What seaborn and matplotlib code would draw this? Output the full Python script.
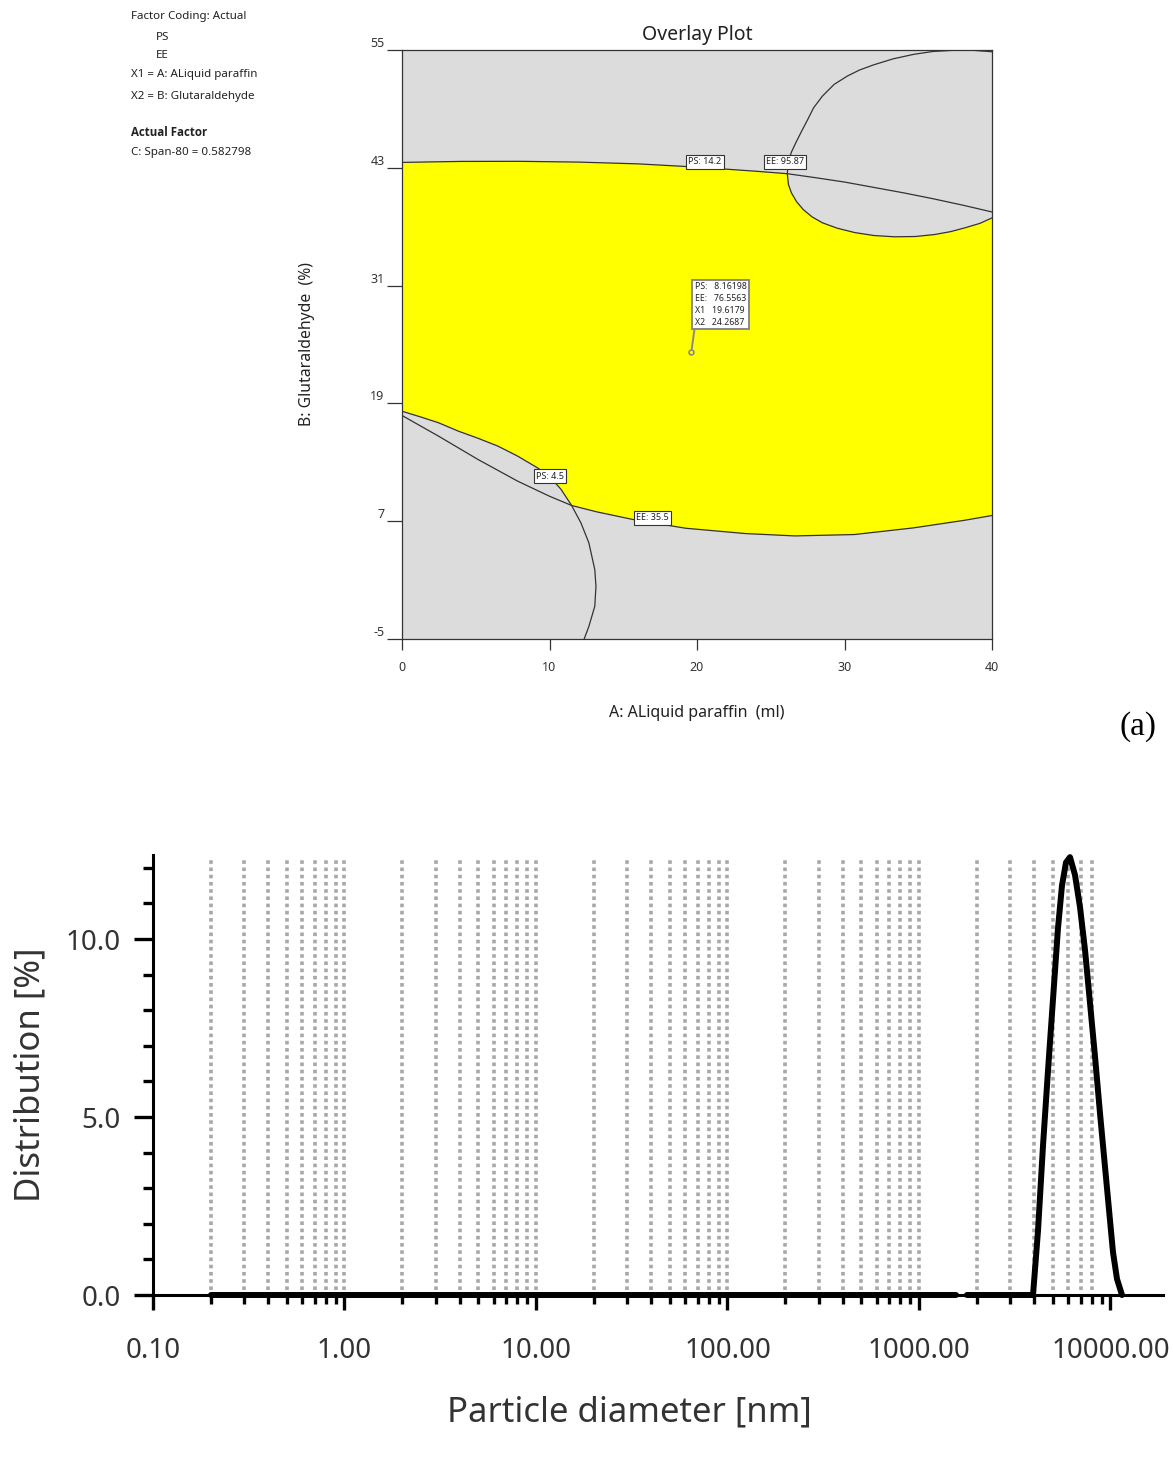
import numpy as np
import pandas as pd
import matplotlib
matplotlib.use('Agg')
import matplotlib.pyplot as plt
import matplotlib.ticker as mticker
import seaborn as sns

# ---------------- (a) Overlay plot : contours ----------------
# PS = 14.2 contour (upper)
ps142_x = [0, 4, 8, 12, 16, 20, 24, 26.12, 28, 30, 32, 34, 36, 38, 40]
ps142_y = [43.55, 43.65, 43.66, 43.58, 43.4, 43.07, 42.65, 42.4, 42.0, 41.55, 41.0, 40.45, 39.85, 39.2, 38.5]

# EE = 95.87 contour (closed region top right)
ee9587_x = [40, 38.7, 37.4, 36.0, 34.7, 33.3, 32.0, 31.0, 30.2, 29.3, 28.5, 27.9, 27.5, 27.1, 26.7,
            26.4, 26.2, 26.12, 26.2, 26.4, 26.75, 27.2, 27.8, 28.5, 29.5, 30.7, 32.0, 33.4, 34.8,
            36.1, 37.2, 38.2, 39.2, 40]
ee9587_y = [54.82, 54.97, 54.97, 54.85, 54.56, 54.1, 53.5, 52.95, 52.35, 51.5, 50.3, 49.1, 47.9, 46.75, 45.55,
            44.6, 43.6, 42.4, 41.3, 40.45, 39.55, 38.75, 38.0, 37.4, 36.85, 36.4, 36.1, 35.97, 36.0,
            36.2, 36.5, 36.9, 37.35, 37.9]

# PS = 4.5 contour (lower left)
ps45_x = [0, 1.2, 2.47, 3.81, 5.15, 6.5, 7.84, 9.18, 9.99, 10.79, 11.5, 12.13, 12.67, 13.07, 13.15,
          13.07, 12.67, 12.35]
ps45_y = [18.2, 17.65, 17.03, 16.18, 15.45, 14.65, 13.63, 12.44, 11.59, 10.23, 8.6, 6.83, 4.79, 2.07, 0.37,
          -1.67, -3.71, -5.0]

# EE = 35.5 contour (lower)
ee355_x = [0, 2.47, 5.15, 7.84, 9.99, 11.5, 13.21, 15.89, 19.25, 23.28, 26.63, 30.66, 34.68, 38.17, 40]
ee355_y = [17.77, 15.67, 13.29, 11.08, 9.55, 8.6, 7.95, 7.1, 6.28, 5.74, 5.5, 5.64, 6.32, 7.1, 7.58]

contour_labels = ['PS: 14.2', 'EE: 95.87', 'PS: 4.5', 'EE: 35.5']
contour_label_x = [20.54, 25.97, 10.03, 17.0]
contour_label_y = [43.6, 43.6, 11.6, 7.33]

flag_point = (19.6179, 24.2687)
flag_text = 'PS:   8.16198\nEE:   76.5563\nX1   19.6179\nX2   24.2687'

x1_ticks = [0, 10, 20, 30, 40]
x2_ticks = [-5, 7, 19, 31, 43, 55]

# ---------------- (b) particle size distribution ----------------
size_nm = [0.2, 1560, 1780, 3939, 4182, 4442, 4716, 5008, 5318, 5580, 5855, 6144, 6525,
           6929, 7358, 7816, 8301, 8815, 9361, 9940, 10306, 10813, 11484]
distribution = [0.0, 0.0, 0.0, 0.0, 1.8, 4.2, 6.3, 8.3, 10.3, 11.5, 12.15, 12.3, 11.8,
                10.9, 9.7, 8.2, 6.7, 5.1, 3.6, 2.1, 1.2, 0.45, 0.0]
segment = [0, 0] + [1] * 21

x_major = [0.1, 1, 10, 100, 1000, 10000]
x_major_labels = ['0.10', '1.00', '10.00', '100.00', '1000.00', '10000.00']
y_major = [0, 5, 10]
y_major_labels = ['0.0', '5.0', '10.0']
grid_mult = [2, 3, 4, 5, 6, 7, 8, 9, 10]
grid_decades = [0.1, 1, 10, 100]
grid_last = [2000, 3000, 4000, 5000, 6000, 7000, 8000]

sns.set_theme(style='white')
plt.rcParams['font.family'] = ['Noto Sans', 'DejaVu Sans']

fig = plt.figure(figsize=(11.73, 14.72), dpi=100)
W, H = 1173, 1472

# ======================= top panel =======================
ax1 = fig.add_axes([402 / W, 1 - 639 / H, 590 / W, 589 / H])
ax1.set_facecolor('#dcdcdc')

# yellow feasible region built from the contour pieces
i_c = ps142_x.index(26.12)
j_c = ee9587_x.index(26.12)
k_c = ee355_x.index(11.5)
m_c = ps45_x.index(11.5)
poly_x = ps142_x[:i_c + 1] + ee9587_x[j_c + 1:] + ee355_x[k_c:][::-1] + ps45_x[:m_c][::-1]
poly_y = ps142_y[:i_c + 1] + ee9587_y[j_c + 1:] + ee355_y[k_c:][::-1] + ps45_y[:m_c][::-1]
ax1.fill(poly_x, poly_y, color='#ffff00', lw=0, zorder=1)

for cx, cy in [(ps142_x, ps142_y), (ee9587_x, ee9587_y), (ps45_x, ps45_y), (ee355_x, ee355_y)]:
    sns.lineplot(x=cx, y=cy, sort=False, estimator=None, color='#333333', lw=0.9, ax=ax1, zorder=3)

for t, tx, ty in zip(contour_labels, contour_label_x, contour_label_y):
    ax1.text(tx, ty, t, fontsize=6.5, ha='center', va='center', color='#222222', zorder=5,
             bbox=dict(boxstyle='square,pad=0.25', fc='white', ec='#333333', lw=0.8))

ax1.plot([flag_point[0]], [flag_point[1]], 'o', ms=3.5, mfc='none', mec='#888888', mew=1.2, zorder=6)
ax1.annotate(flag_text, xy=flag_point, xytext=(2.5, 18), textcoords='offset points',
             fontsize=6.3, ha='left', va='bottom', color='#222222', linespacing=1.4, zorder=6,
             bbox=dict(boxstyle='square,pad=0.3', fc='white', ec='#888888', lw=1.4),
             arrowprops=dict(arrowstyle='-', color='#888888', lw=1.4, relpos=(0, 0),
                             shrinkA=0, shrinkB=2))

ax1.set_xlim(0, 40)
ax1.set_ylim(-5, 55)
ax1.set_xticks(x1_ticks)
ax1.set_yticks(x2_ticks)
ax1.set_xticklabels([str(v) for v in x1_ticks])
ax1.set_yticklabels([str(v) for v in x2_ticks])
ax1.tick_params(axis='y', direction='out', length=11, width=0.9, color='#333333', pad=1.5,
                labelsize=9, labelcolor='#333333', left=True)
ax1.tick_params(axis='x', direction='out', length=8, width=0.9, color='#333333', pad=8,
                labelsize=9, labelcolor='#333333', bottom=True)
for lbl in ax1.get_yticklabels():
    lbl.set_verticalalignment('bottom')
for s in ax1.spines.values():
    s.set_color('#333333')
    s.set_linewidth(0.9)
ax1.set_xlabel('A: ALiquid paraffin  (ml)', fontsize=11.5, color='#222222', labelpad=22)
ax1.set_ylabel('B: Glutaraldehyde  (%)', fontsize=11.3, color='#222222', labelpad=40)
ax1.set_title('Overlay Plot', fontsize=14, color='#222222', pad=7)
ax1.grid(False)

left_lines = [('Factor Coding: Actual', 131, 17, 'normal'),
              ('PS', 156, 37, 'normal'),
              ('EE', 156, 56, 'normal'),
              ('X1 = A: ALiquid paraffin', 131, 75, 'normal'),
              ('X2 = B: Glutaraldehyde', 131, 96, 'normal'),
              ('Actual Factor', 131, 133, 'bold'),
              ('C: Span-80 = 0.582798', 131, 153, 'normal')]
for t, px, py, fw in left_lines:
    fam = ['Open Sans', 'DejaVu Sans'] if fw == 'bold' else ['Noto Sans', 'DejaVu Sans']
    fig.text(px / W, 1 - py / H, t, fontsize=8.3, ha='left', va='center', color='#222222',
             fontweight=fw, family=fam)

fig.text(1138 / W, 1 - 727 / H, '(a)', fontsize=24, ha='center', va='center',
         family=['Liberation Serif', 'DejaVu Serif'], color='black')

# ======================= bottom panel =======================
ax2 = fig.add_axes([153 / W, 1 - 1295 / H, (1163 - 153) / W, (1295 - 855) / H])
ax2.set_xscale('log')
ax2.set_xlim(0.1, 18800)
ax2.set_ylim(0, 12.36)

grid_pos = [m * d for d in grid_decades for m in grid_mult] + grid_last
ax2.vlines(grid_pos, 0.15, 12.3, colors='#a8a8a8', linestyles=(0, (1, 1)), lw=2.6, zorder=1)

df = pd.DataFrame({'size': size_nm, 'dist': distribution, 'seg': segment})
sns.lineplot(data=df, x='size', y='dist', units='seg', estimator=None, sort=False,
             color='black', lw=4.3, ax=ax2, zorder=4, clip_on=False)

ax2.set_xticks(x_major)
ax2.set_xticklabels(x_major_labels)
ax2.xaxis.set_minor_locator(mticker.LogLocator(base=10, subs=range(2, 10), numticks=20))
ax2.xaxis.set_minor_formatter(mticker.NullFormatter())
ax2.set_yticks(y_major)
ax2.set_yticklabels(y_major_labels)
ax2.yaxis.set_minor_locator(mticker.MultipleLocator(1))
ax2.tick_params(axis='x', which='major', direction='out', length=11, width=2.4, color='black',
                pad=19.5, labelsize=20, labelcolor='#333333', bottom=True)
ax2.tick_params(axis='x', which='minor', direction='out', length=6.5, width=2.4, color='black', bottom=True)
ax2.tick_params(axis='y', which='major', direction='out', length=14, width=2.4, color='black',
                pad=9, labelsize=20, labelcolor='#333333', left=True)
ax2.tick_params(axis='y', which='minor', direction='out', length=7, width=2.4, color='black', left=True)
for side in ['top', 'right']:
    ax2.spines[side].set_visible(False)
for side in ['left', 'bottom']:
    ax2.spines[side].set_color('black')
    ax2.spines[side].set_linewidth(2.2)
ax2.set_xlabel('Particle diameter [nm]', fontsize=25, color='#333333', labelpad=22)
ax2.xaxis.label.set_x(0.472)
ax2.set_ylabel('Distribution [%]', fontsize=25, color='#333333', labelpad=13)
ax2.grid(False)
ax2.set_facecolor('white')

fig.savefig('out.png', dpi=100, facecolor='white')
